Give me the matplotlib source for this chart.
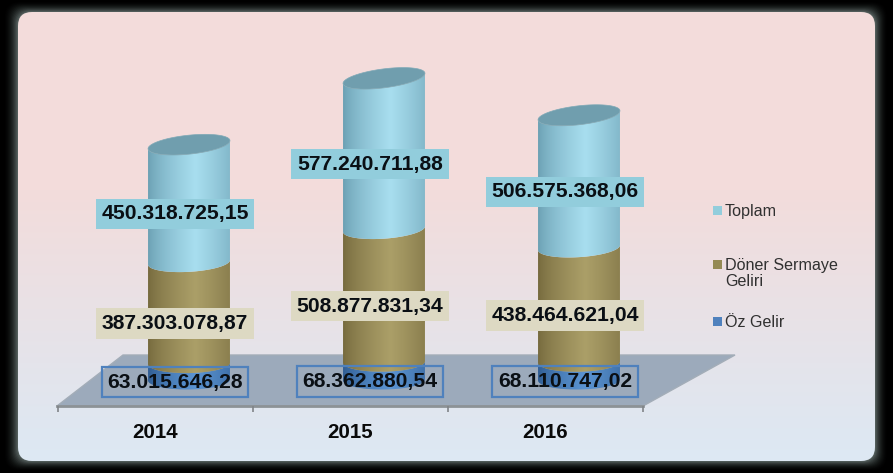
import numpy as np
import matplotlib
matplotlib.use('Agg')
import matplotlib.pyplot as plt
from matplotlib.patches import FancyBboxPatch, Polygon
from matplotlib.colors import LinearSegmentedColormap

plt.rcParams['font.family'] = ['Liberation Sans', 'DejaVu Sans']

# dati
years = ['2014', '2015', '2016']
oz_gelir = [63015646.28, 68362880.54, 68110747.02]
doner_sermaye = [387303078.87, 508877831.34, 438464621.04]
toplam = [450318725.15, 577240711.88, 506575368.06]
legend_labels = ['Toplam', 'Döner Sermaye\nGeliri', 'Öz Gelir']

W, H = 893, 473
PX_X = 195.0       # pixel per categoria
PX_Y = 0.2613e-6   # pixel per lira
X0, Y0 = 189, 380  # pixel del centro della prima barra alla base
BAR_HALF = 0.21
ELL_B = 9.5 / PX_Y   # semiasse minore dell'ellisse


def fmt(v):
    s = f'{v:,.2f}'
    return s.replace(',', '#').replace('.', ',').replace('#', '.')


def lerp(c1, c2, t):
    return tuple(np.array(c1) * (1 - t) + np.array(c2) * t)


fig = plt.figure(figsize=(W / 100, H / 100), dpi=100, facecolor='black')

# --- sfondo in pixel
bg = fig.add_axes([0, 0, 1, 1])
bg.set_xlim(0, W)
bg.set_ylim(H, 0)
bg.axis('off')

outer = np.array([2, 0, 889, 472])
inner = np.array([18, 12, 875, 461])
n = 16
for i in range(n):
    t = i / (n - 1)
    x1, y1, x2, y2 = outer * (1 - t) + inner * t
    g = lerp((0, 0, 0), (0.38, 0.43, 0.42), t ** 2.2)
    bg.add_patch(FancyBboxPatch((x1 + 15, y1 + 15), x2 - x1 - 30, y2 - y1 - 30,
                                boxstyle='round,pad=15,rounding_size=15',
                                fc=g, ec='none'))

panel = FancyBboxPatch((33, 27), 827, 419, boxstyle='round,pad=15,rounding_size=14',
                       fc='none', ec='none')
bg.add_patch(panel)
grad = np.zeros((H, 1, 3))
pink = (0.953, 0.863, 0.859)
blue = (0.867, 0.910, 0.953)
for row in range(H):
    grad[row, 0] = lerp(pink, blue, np.clip((row - 190) / 260, 0, 1))
im = bg.imshow(grad, extent=(0, W, H, 0), aspect='auto', zorder=2)
im.set_clip_path(panel)
bg.set_xlim(0, W)
bg.set_ylim(H, 0)

# pavimento
bg.add_patch(Polygon([(57, 406), (643, 406), (735, 355), (123, 355)], closed=True,
                     fc='#9caabb', ec='#a3adb8', lw=1, zorder=3))
bg.plot([57, 643], [406, 406], color='#8c9296', lw=2, zorder=3)

# --- asse frontale con gli anni
front = fig.add_axes([58 / W, (H - 406) / H, 585 / W, 0.001])
front.patch.set_alpha(0)
front.set_xlim(-0.5, 2.5)
front.set_yticks([])
for s in ['top', 'left', 'right', 'bottom']:
    front.spines[s].set_visible(False)
front.set_xticks([-0.5, 0.5, 1.5, 2.5])
front.set_xticklabels([])
front.tick_params(axis='x', which='major', length=4.5, width=1.2, color='#808488')
front.set_xticks([0, 1, 2], minor=True)
front.set_xticklabels(years, minor=True, fontsize=14.8, fontweight='bold', color='#0a0a0a')
front.tick_params(axis='x', which='minor', length=0, pad=12)

# --- barre in unita dei dati
ax = fig.add_axes([0, 0, 1, 1])
ax.patch.set_alpha(0)
ax.axis('off')
xlim = (-X0 / PX_X, (W - X0) / PX_X)
ylim = (-(H - Y0) / PX_Y, Y0 / PX_Y)
ax.set_xlim(xlim)
ax.set_ylim(ylim)

segments = [
    (oz_gelir, ('#2f5c92', '#5b94d2'), '#4f81bd', 'none'),
    (doner_sermaye, ('#75693d', '#ab9f68'), '#d9d5bd', '#ddd9c3'),
    (toplam, ('#6a9fb2', '#a8deef'), '#92cddc', '#92cddc'),
]
tt = np.linspace(0, 1, 60)


def tilt(h):
    # inclinazione dell'ellisse: cresce con l'altezza (prospettiva)
    return (0.5 + 0.015 * h * PX_Y) / PX_Y


def arc(xc, h, lower=True):
    ang = np.pi * tt
    xs = xc - BAR_HALF * np.cos(ang)
    sign = -1 if lower else 1
    ys = h + sign * ELL_B * np.sin(ang) + tilt(h) * (xs - xc) / BAR_HALF
    return xs, ys


def shade_bar(xs, ys, colors, z):
    xc = xs.mean()
    patch = Polygon(np.column_stack([xs, ys]), closed=True, fc='none', ec='none',
                    transform=ax.transData)
    ax.add_patch(patch)
    pos = np.linspace(0, 1, 128)
    shade = 1 - np.abs(pos - 0.58) / 0.58
    img = ax.imshow((shade ** 0.7)[None, :], extent=(xc - BAR_HALF, xc + BAR_HALF, ylim[0], ylim[1]),
                    cmap=LinearSegmentedColormap.from_list('c', colors), vmin=0, vmax=1,
                    aspect='auto', zorder=z)
    img.set_clip_path(patch)


for i in range(len(years)):
    bottom = 0
    for j, (vals, colors, edge, face) in enumerate(segments):
        top = bottom + vals[i]
        xb, yb = arc(i, bottom)
        xt, yt = arc(i, top)
        xs = np.concatenate([xb, xt[::-1]])
        ys = np.concatenate([yb, yt[::-1]])
        shade_bar(xs, ys, colors, 4 + j)
        if j == 2:
            # cerchio superiore
            xu, yu = arc(i, top, lower=False)
            cap = Polygon(np.column_stack([np.concatenate([xt, xu[::-1]]),
                                           np.concatenate([yt, yu[::-1]])]),
                          closed=True, fc='#709eae', ec='#7fa9b6', lw=0.5, zorder=8)
            ax.add_patch(cap)
        # etichetta
        ax.text(i - 14 / PX_X, (bottom + top) / 2 - 10.5 / PX_Y, fmt(vals[i]),
                ha='center', va='center', fontsize=15.2, fontweight='bold', color='#0a0f14',
                zorder=10,
                bbox=dict(boxstyle='square,pad=0.27', fc=face, ec=edge,
                          lw=1.6 if j == 0 else 0))
        bottom = top
ax.set_xlim(xlim)
ax.set_ylim(ylim)

# --- legenda
legend_y = [210, 264, 321]
legend_colors = ['#92cddc', '#948a54', '#4f81bd']
for lab, y, c in zip(legend_labels, legend_y, legend_colors):
    bg.add_patch(Polygon([(713, y - 4.5), (722, y - 4.5), (722, y + 4.5), (713, y + 4.5)],
                         closed=True, fc=c, ec='none', zorder=5))
    bg.text(725, y - 6.5, lab, ha='left', va='top', fontsize=11.6, color='#303030',
            linespacing=1.15, zorder=5)

fig.savefig('out.png', dpi=100, facecolor='black')
